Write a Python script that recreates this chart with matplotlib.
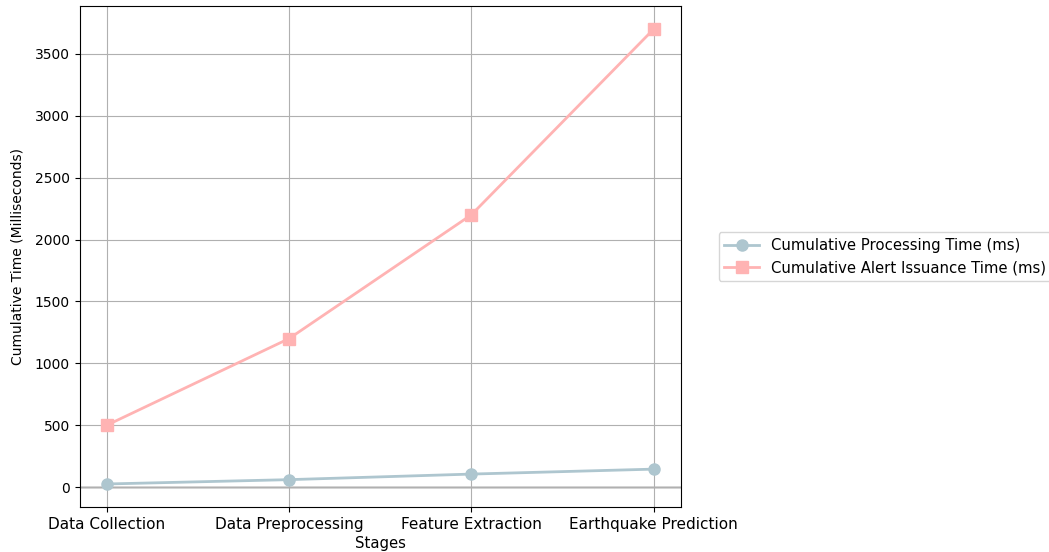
import matplotlib
matplotlib.use("Agg")
import matplotlib.pyplot as plt

stages = ["Data Collection", "Data Preprocessing", "Feature Extraction", "Earthquake Prediction"]
processing_time = [25, 60, 105, 145]
alert_time = [500, 1200, 2200, 3700]

fig = plt.figure(figsize=(10.49, 5.52), dpi=100)
ax = fig.add_axes([79.5/1049, 1 - 507/552, 601.5/1049, 501/552])

ax.plot(stages, processing_time, marker='o', color='#AEC6CF', linewidth=2, markersize=8,
        label='Cumulative Processing Time (ms)')
ax.plot(stages, alert_time, marker='s', color='#FFB3B3', linewidth=2, markersize=8,
        label='Cumulative Alert Issuance Time (ms)')
ax.axhline(0, color='lightgray', linewidth=2, zorder=0)
ax.grid(True, color='#b0b0b0')
ax.set_axisbelow(True)
ax.set_xlabel('Stages', fontsize=10.7, labelpad=3)
ax.set_ylabel('Cumulative Time (Milliseconds)', fontsize=10, labelpad=7)
ax.tick_params(axis='x', labelsize=11)
ax.tick_params(axis='y', labelsize=10)
ax.set_ylim(-161, 3887)
ax.legend(loc='center left', bbox_to_anchor=(1.05, 0.5), fontsize=10.7, handlelength=2.3)

fig.savefig('out.png', dpi=100)
